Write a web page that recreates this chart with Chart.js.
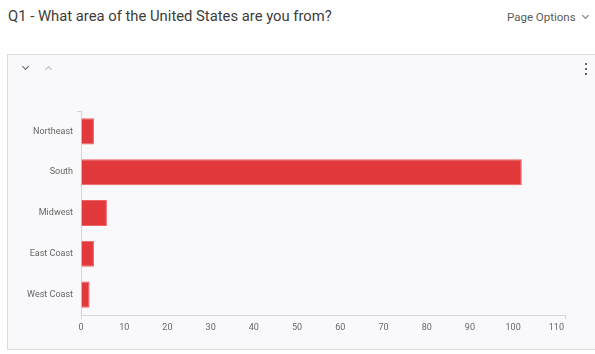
<!DOCTYPE html>
<html lang="en">
<head>
<meta charset="UTF-8">
<title>Q1 - What area of the United States are you from?</title>
<script src="https://cdn.jsdelivr.net/npm/chart.js"></script>
<style>
    body { margin: 0; width: 595px; height: 354px; background: #fff; font-family: Roboto, "Noto Sans", sans-serif; overflow: hidden; position: relative; }
    .title { position: absolute; left: 8px; top: 7px; font-size: 14.8px; color: #3c3c3c; }
    .options { position: absolute; left: 507px; top: 10px; font-size: 11.5px; color: #5a5a5a; }
    .options .chev { display: inline-block; width: 4px; height: 4px; border-right: 1px solid #777; border-bottom: 1px solid #777; transform: rotate(45deg); margin-left: 7px; position: relative; top: -3px; }
    .card { position: absolute; left: 7px; top: 54px; width: 600px; height: 294px; background: #f9f9fb; border: 1px solid #dcdcdc; }
    .down, .up { position: absolute; width: 4px; height: 4px; border-right: 1.5px solid #666; border-bottom: 1.5px solid #666; }
    .down { left: 15px; top: 9px; transform: rotate(45deg); }
    .up { left: 38px; top: 12px; transform: rotate(-135deg); border-color: #bbb; }
    .dots { position: absolute; left: 577px; top: 8px; }
    .dots span { display: block; width: 2px; height: 2px; background: #666; margin-bottom: 3px; }
    .chart-box { position: absolute; left: 8px; top: 54px; width: 587px; height: 294px; }
</style>
</head>
<body>
    <div class="title">Q1 - What area of the United States are you from?</div>
    <div class="options">Page Options<span class="chev"></span></div>
    <div class="card">
        <div class="down"></div>
        <div class="up"></div>
        <div class="dots"><span></span><span></span><span></span></div>
    </div>
    <div class="chart-box"><canvas id="areaChart"></canvas></div>

<script>
    // Answers and counts per region
    const regions = ['Northeast', 'South', 'Midwest', 'East Coast', 'West Coast'];
    const counts = [3, 102, 6, 3, 2];
    const tickValues = [0, 10, 20, 30, 40, 50, 60, 70, 80, 90, 100, 110];
    const axisMax = 112;

    const axisColor = '#d6d6d6';
    const labelColor = '#666';

    const ctx = document.getElementById('areaChart').getContext('2d');
    new Chart(ctx, {
        type: 'bar',
        data: {
            labels: regions,
            datasets: [{
                data: counts,
                backgroundColor: '#e2393d',
                borderColor: '#ee6366',
                borderWidth: 1,
                borderSkipped: 'left',
                categoryPercentage: 1,
                barPercentage: 0.64
            }]
        },
        options: {
            indexAxis: 'y',
            responsive: true,
            maintainAspectRatio: false,
            animation: false,
            layout: { padding: { top: 57, right: 30, left: 0, bottom: 0 } },
            plugins: { legend: { display: false }, tooltip: { enabled: false } },
            scales: {
                x: {
                    min: 0,
                    max: axisMax,
                    afterFit: scale => { scale.height = 33; },
                    // fixed ticks plus an unlabelled end mark at the axis max
                    afterBuildTicks: scale => {
                        scale.ticks = tickValues.concat([axisMax]).map(v => ({ value: v }));
                    },
                    ticks: {
                        autoSkip: false,
                        maxRotation: 0,
                        color: labelColor,
                        font: { family: 'Roboto', size: 9 },
                        padding: 3,
                        callback: v => (tickValues.includes(v) ? v : '')
                    },
                    grid: {
                        drawOnChartArea: false,
                        tickLength: 4,
                        color: c => (c.index === 0 || (c.tick && c.tick.value === axisMax) ? axisColor : 'rgba(0,0,0,0)')
                    },
                    border: { color: axisColor, width: 1 }
                },
                y: {
                    afterFit: scale => { scale.width = 73; },
                    ticks: {
                        color: labelColor,
                        font: { family: 'Roboto', size: 9 },
                        padding: 4
                    },
                    grid: {
                        drawOnChartArea: false,
                        offset: true,
                        tickLength: 4,
                        color: c => (c.index === 0 ? axisColor : 'rgba(0,0,0,0)')
                    },
                    border: { color: axisColor, width: 1 }
                }
            }
        }
    });
</script>
</body>
</html>
